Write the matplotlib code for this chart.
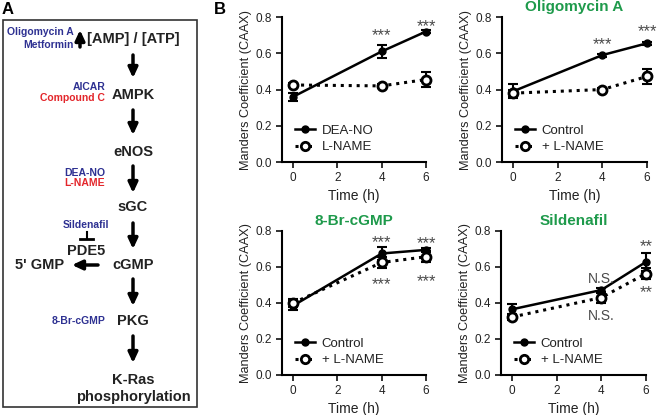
import matplotlib
matplotlib.use("Agg")
import matplotlib.pyplot as plt
from matplotlib.patches import Rectangle
from matplotlib.lines import Line2D
from matplotlib.ticker import FormatStrFormatter

plt.rcParams['font.family'] = ['Liberation Sans', 'DejaVu Sans']

# === Data ===
times = [0, 4, 6]
titles = ["", "Oligomycin A", "8-Br-cGMP", "Sildenafil"]
solid_labels = ["DEA-NO", "Control", "Control", "Control"]
dotted_labels = ["L-NAME", "+ L-NAME", "+ L-NAME", "+ L-NAME"]

dea_no = [0.36, 0.61, 0.72]
dea_no_err = [0.023, 0.034, 0.008]
lname = [0.425, 0.42, 0.455]
lname_err = [0.01, 0.01, 0.041]

oligo_ctrl = [0.39, 0.59, 0.655]
oligo_ctrl_err = [0.039, 0.008, 0.008]
oligo_lname = [0.38, 0.40, 0.472]
oligo_lname_err = [0.02, 0.01, 0.039]

brc_ctrl = [0.385, 0.675, 0.695]
brc_ctrl_err = [0.025, 0.038, 0.01]
brc_lname = [0.40, 0.625, 0.657]
brc_lname_err = [0.02, 0.03, 0.03]

sil_ctrl = [0.365, 0.472, 0.628]
sil_ctrl_err = [0.032, 0.01, 0.052]
sil_lname = [0.322, 0.43, 0.563]
sil_lname_err = [0.018, 0.028, 0.032]

solid_series = [dea_no, oligo_ctrl, brc_ctrl, sil_ctrl]
solid_errs = [dea_no_err, oligo_ctrl_err, brc_ctrl_err, sil_ctrl_err]
dotted_series = [lname, oligo_lname, brc_lname, sil_lname]
dotted_errs = [lname_err, oligo_lname_err, brc_lname_err, sil_lname_err]

# significance marks: (time, value, text)
marks = [
    [(4, 0.70, "***"), (6, 0.745, "***")],
    [(4, 0.65, "***"), (6, 0.72, "***")],
    [(4, 0.735, "***"), (6, 0.73, "***"), (4, 0.50, "***"), (6, 0.52, "***")],
    [(6, 0.715, "**"), (6, 0.46, "**"), (4, 0.535, "N.S."), (4, 0.325, "N.S.")],
]

# === Figure ===
fig = plt.figure(figsize=(6.6, 4.15), dpi=100)

# ---- Panel A: pathway diagram (pixel coordinates) ----
pa = fig.add_axes([0, 0, 1, 1])
pa.set_xlim(0, 660)
pa.set_ylim(415, 0)
pa.axis("off")

blue = "#2e3192"
red = "#e3262b"
dark = "#222222"

pa.text(8, 10, "A", fontsize=12, weight="bold", ha="center", va="center")
pa.text(220, 10, "B", fontsize=12, weight="bold", ha="center", va="center")
pa.add_patch(Rectangle((3, 20), 194, 387, fill=False, lw=1.2, ec="#333333"))

main_nodes = [("[AMP] / [ATP]", 133, 39), ("AMPK", 133, 95), ("eNOS", 133, 152),
              ("sGC", 133, 207), ("cGMP", 133, 265), ("PKG", 133, 321),
              ("K-Ras", 133, 380), ("phosphorylation", 133, 397),
              ("PDE5", 86, 251), ("5' GMP", 40, 265)]
for txt, x, y in main_nodes:
    pa.text(x, y, txt, fontsize=10.5, weight="bold", ha="center", va="center", color=dark)

drugs = [("Oligomycin A", 74, 32, blue), ("Metformin", 74, 45, blue),
         ("AICAR", 105, 87, blue), ("Compound C", 105, 98, red),
         ("DEA-NO", 105, 173, blue), ("L-NAME", 105, 183, red),
         ("8-Br-cGMP", 106, 321, blue)]
for txt, x, y, c in drugs:
    pa.text(x, y, txt, fontsize=7.5, weight="bold", ha="right", va="center", color=c)
pa.text(86, 225, "Sildenafil", fontsize=7.5, weight="bold", ha="center", va="center", color=blue)

arrow_kw = dict(arrowstyle="-|>,head_length=0.6,head_width=0.28", lw=2.5, color="black",
                shrinkA=0, shrinkB=0, mutation_scale=10)
arrows = [((133, 55), (133, 78)), ((133, 110), (133, 135)), ((133, 166), (133, 193)),
          ((133, 223), (133, 249)), ((133, 279), (133, 306)), ((133, 336), (133, 363)),
          ((98, 265), (72, 265)), ((80, 47), (80, 30))]
for start, end in arrows:
    pa.annotate("", xy=end, xytext=start, arrowprops=arrow_kw)

# inhibition bar for sildenafil
pa.plot([86.5, 86.5], [232, 239], color="black", lw=1.5)
pa.plot([80, 93], [239, 239], color="black", lw=2)

# ---- Panel B: four line charts ----
positions = [[0.4273, 0.6096, 0.2182, 0.3494],
             [0.7606, 0.6096, 0.2197, 0.3494],
             [0.4273, 0.0964, 0.2182, 0.347],
             [0.7590, 0.0964, 0.2197, 0.347]]
green = "#1e9a4b"

for i, pos in enumerate(positions):
    ax = fig.add_axes(pos)

    # solid series
    ax.errorbar(times, solid_series[i], yerr=solid_errs[i], fmt="none", ecolor="black",
                elinewidth=1.5, capsize=3.5, capthick=1.5, clip_on=False, zorder=3)
    ax.plot(times, solid_series[i], color="black", lw=1.8, marker="o", ms=5,
            mfc="black", mec="black", clip_on=False, zorder=4)

    # dotted series
    ax.errorbar(times, dotted_series[i], yerr=dotted_errs[i], fmt="none", ecolor="black",
                elinewidth=1.5, capsize=3.5, capthick=1.5, clip_on=False, zorder=3)
    ax.plot(times, dotted_series[i], color="black", lw=2.2, ls=(0, (1, 1.6)), marker="o",
            ms=6.5, mfc="white", mec="black", mew=2, clip_on=False, zorder=5)

    for t, v, s in marks[i]:
        fs = 10 if s == "N.S." else 12
        ax.text(t, v, s, ha="center", va="center", fontsize=fs, color="#4a4a4a", zorder=6)

    ax.set_xlim(-0.5, 6)
    ax.set_ylim(0, 0.8)
    ax.set_xticks([0, 2, 4, 6])
    ax.set_yticks([0.0, 0.2, 0.4, 0.6, 0.8])
    ax.yaxis.set_major_formatter(FormatStrFormatter("%.1f"))
    ax.tick_params(direction="out", length=4, width=1.3, labelsize=8.5, colors=dark)
    for side in ["top", "right"]:
        ax.spines[side].set_visible(False)
    for side in ["left", "bottom"]:
        ax.spines[side].set_linewidth(1.5)
    ax.set_xlabel("Time (h)", fontsize=10, color=dark, labelpad=3)
    ax.set_ylabel("Manders Coefficient (CAAX)", fontsize=9.2, color=dark, labelpad=2)
    if titles[i]:
        ax.text(0.5, 1.068, titles[i], transform=ax.transAxes, fontsize=11, weight="bold",
                color=green, ha="center", va="center")

    handles = [Line2D([], [], color="black", lw=1.8, marker="o", ms=5),
               Line2D([], [], color="black", lw=2.2, ls=(0, (1, 1.2)), marker="o", ms=6,
                      mfc="white", mew=2)]
    ax.legend(handles, [solid_labels[i], dotted_labels[i]], loc="lower left",
              bbox_to_anchor=(0.0, -0.03), frameon=False, fontsize=9.5, handlelength=1.5,
              handletextpad=0.5, labelspacing=0.3, borderpad=0.5, labelcolor=dark)

fig.savefig("out.png", dpi=100)
